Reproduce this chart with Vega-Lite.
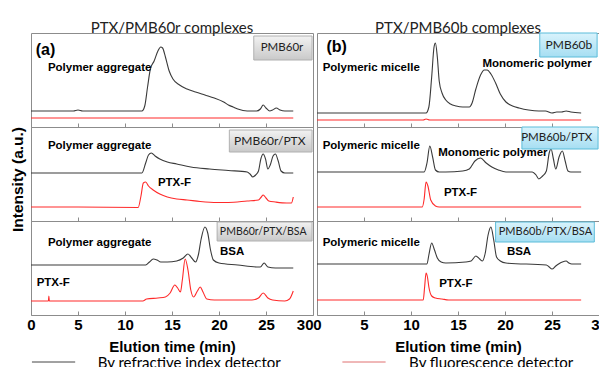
{
  "$schema": "https://vega.github.io/schema/vega-lite/v6.json",
  "autosize": {"type": "none"},
  "padding": {"left": 31, "top": 33, "right": 568, "bottom": 334},
  "background": "white",
  "config": {
    "view": {"stroke": "#8c8c8c", "strokeWidth": 1},
    "font": "Liberation Sans",
    "title": {"font": "Lato", "fontSize": 15, "fontWeight": "normal", "color": "#222", "offset": -3, "anchor": "middle"}
  },
  "datasets": {
    "curves": [
      {"p":"a1","s":"RI","x":0,"y":16},{"p":"a1","s":"RI","x":4.5,"y":16},{"p":"a1","s":"RI","x":5,"y":17},{"p":"a1","s":"RI","x":5.5,"y":16},{"p":"a1","s":"RI","x":11.8,"y":16},{"p":"a1","s":"RI","x":12.1,"y":21},{"p":"a1","s":"RI","x":12.4,"y":40},{"p":"a1","s":"RI","x":12.7,"y":58},{"p":"a1","s":"RI","x":13.1,"y":66},{"p":"a1","s":"RI","x":13.5,"y":76},{"p":"a1","s":"RI","x":13.8,"y":80},{"p":"a1","s":"RI","x":14.0,"y":79},{"p":"a1","s":"RI","x":14.3,"y":70},{"p":"a1","s":"RI","x":14.7,"y":56},{"p":"a1","s":"RI","x":15.1,"y":48},{"p":"a1","s":"RI","x":15.8,"y":42},{"p":"a1","s":"RI","x":16.6,"y":38},{"p":"a1","s":"RI","x":17.5,"y":35},{"p":"a1","s":"RI","x":18.5,"y":32},{"p":"a1","s":"RI","x":19.5,"y":29},{"p":"a1","s":"RI","x":20.5,"y":25},{"p":"a1","s":"RI","x":21,"y":22},{"p":"a1","s":"RI","x":21.5,"y":20},{"p":"a1","s":"RI","x":22,"y":18},{"p":"a1","s":"RI","x":23,"y":16},{"p":"a1","s":"RI","x":24,"y":16},{"p":"a1","s":"RI","x":24.4,"y":18},{"p":"a1","s":"RI","x":24.7,"y":22},{"p":"a1","s":"RI","x":25.0,"y":19},{"p":"a1","s":"RI","x":25.4,"y":16},{"p":"a1","s":"RI","x":25.7,"y":17},{"p":"a1","s":"RI","x":26.1,"y":19},{"p":"a1","s":"RI","x":26.5,"y":17},{"p":"a1","s":"RI","x":27,"y":16},{"p":"a1","s":"RI","x":27.9,"y":16},
      {"p":"a1","s":"FL","x":0,"y":9},{"p":"a1","s":"FL","x":27.9,"y":9},
      {"p":"a2","s":"RI","x":0,"y":48},{"p":"a2","s":"RI","x":11.8,"y":48},{"p":"a2","s":"RI","x":12.2,"y":58},{"p":"a2","s":"RI","x":12.5,"y":66},{"p":"a2","s":"RI","x":12.8,"y":68},{"p":"a2","s":"RI","x":13.2,"y":65},{"p":"a2","s":"RI","x":13.7,"y":62},{"p":"a2","s":"RI","x":14.5,"y":59},{"p":"a2","s":"RI","x":15.5,"y":57},{"p":"a2","s":"RI","x":17,"y":54},{"p":"a2","s":"RI","x":19,"y":52},{"p":"a2","s":"RI","x":21,"y":50.5},{"p":"a2","s":"RI","x":23,"y":49},{"p":"a2","s":"RI","x":23.3,"y":47},{"p":"a2","s":"RI","x":23.6,"y":44},{"p":"a2","s":"RI","x":23.9,"y":46},{"p":"a2","s":"RI","x":24.2,"y":50},{"p":"a2","s":"RI","x":24.45,"y":62},{"p":"a2","s":"RI","x":24.7,"y":67},{"p":"a2","s":"RI","x":24.95,"y":62},{"p":"a2","s":"RI","x":25.2,"y":52},{"p":"a2","s":"RI","x":25.45,"y":56},{"p":"a2","s":"RI","x":25.75,"y":65},{"p":"a2","s":"RI","x":26.0,"y":67},{"p":"a2","s":"RI","x":26.3,"y":60},{"p":"a2","s":"RI","x":26.6,"y":50},{"p":"a2","s":"RI","x":27,"y":48},{"p":"a2","s":"RI","x":27.9,"y":48},
      {"p":"a2","s":"FL","x":0,"y":14},{"p":"a2","s":"FL","x":5,"y":14},{"p":"a2","s":"FL","x":11.4,"y":13.5},{"p":"a2","s":"FL","x":11.7,"y":25},{"p":"a2","s":"FL","x":11.95,"y":38},{"p":"a2","s":"FL","x":12.2,"y":39},{"p":"a2","s":"FL","x":12.5,"y":35},{"p":"a2","s":"FL","x":13,"y":31},{"p":"a2","s":"FL","x":13.7,"y":27},{"p":"a2","s":"FL","x":14.5,"y":24},{"p":"a2","s":"FL","x":15.5,"y":22},{"p":"a2","s":"FL","x":16.6,"y":21},{"p":"a2","s":"FL","x":18,"y":19.5},{"p":"a2","s":"FL","x":19.8,"y":18.5},{"p":"a2","s":"FL","x":21,"y":18.5},{"p":"a2","s":"FL","x":23,"y":20},{"p":"a2","s":"FL","x":24.2,"y":21},{"p":"a2","s":"FL","x":24.5,"y":24},{"p":"a2","s":"FL","x":24.7,"y":26},{"p":"a2","s":"FL","x":25,"y":23},{"p":"a2","s":"FL","x":25.3,"y":20},{"p":"a2","s":"FL","x":26,"y":19},{"p":"a2","s":"FL","x":27.2,"y":18},{"p":"a2","s":"FL","x":27.7,"y":18},{"p":"a2","s":"FL","x":27.9,"y":24},
      {"p":"a3","s":"RI","x":0,"y":50},{"p":"a3","s":"RI","x":12.2,"y":50},{"p":"a3","s":"RI","x":12.6,"y":53},{"p":"a3","s":"RI","x":13.0,"y":56},{"p":"a3","s":"RI","x":13.4,"y":55},{"p":"a3","s":"RI","x":13.8,"y":53},{"p":"a3","s":"RI","x":14.5,"y":53},{"p":"a3","s":"RI","x":15.5,"y":54},{"p":"a3","s":"RI","x":16.2,"y":57},{"p":"a3","s":"RI","x":16.7,"y":61},{"p":"a3","s":"RI","x":17.1,"y":57},{"p":"a3","s":"RI","x":17.5,"y":53},{"p":"a3","s":"RI","x":17.8,"y":60},{"p":"a3","s":"RI","x":18.1,"y":76},{"p":"a3","s":"RI","x":18.5,"y":88},{"p":"a3","s":"RI","x":18.8,"y":82},{"p":"a3","s":"RI","x":19.1,"y":65},{"p":"a3","s":"RI","x":19.4,"y":55},{"p":"a3","s":"RI","x":20,"y":52},{"p":"a3","s":"RI","x":22,"y":50},{"p":"a3","s":"RI","x":24,"y":48},{"p":"a3","s":"RI","x":24.4,"y":48},{"p":"a3","s":"RI","x":24.8,"y":52},{"p":"a3","s":"RI","x":25.2,"y":48},{"p":"a3","s":"RI","x":26,"y":47},{"p":"a3","s":"RI","x":27.9,"y":47},
      {"p":"a3","s":"FL","x":0,"y":14},{"p":"a3","s":"FL","x":1.85,"y":14},{"p":"a3","s":"FL","x":1.9,"y":19},{"p":"a3","s":"FL","x":1.95,"y":14},{"p":"a3","s":"FL","x":11.9,"y":14},{"p":"a3","s":"FL","x":12.3,"y":16},{"p":"a3","s":"FL","x":13.5,"y":17},{"p":"a3","s":"FL","x":14.3,"y":18},{"p":"a3","s":"FL","x":14.8,"y":22},{"p":"a3","s":"FL","x":15.3,"y":30},{"p":"a3","s":"FL","x":15.6,"y":27},{"p":"a3","s":"FL","x":15.9,"y":23},{"p":"a3","s":"FL","x":16.1,"y":35},{"p":"a3","s":"FL","x":16.4,"y":56},{"p":"a3","s":"FL","x":16.7,"y":45},{"p":"a3","s":"FL","x":17.0,"y":25},{"p":"a3","s":"FL","x":17.3,"y":18},{"p":"a3","s":"FL","x":17.7,"y":24},{"p":"a3","s":"FL","x":18.0,"y":28},{"p":"a3","s":"FL","x":18.3,"y":23},{"p":"a3","s":"FL","x":18.7,"y":16},{"p":"a3","s":"FL","x":19.5,"y":15},{"p":"a3","s":"FL","x":23.5,"y":15},{"p":"a3","s":"FL","x":24.2,"y":17},{"p":"a3","s":"FL","x":24.7,"y":22},{"p":"a3","s":"FL","x":25.2,"y":17},{"p":"a3","s":"FL","x":25.7,"y":15},{"p":"a3","s":"FL","x":27,"y":14},{"p":"a3","s":"FL","x":27.5,"y":16},{"p":"a3","s":"FL","x":27.9,"y":24},
      {"p":"b1","s":"RI","x":0,"y":14},{"p":"b1","s":"RI","x":11.6,"y":14},{"p":"b1","s":"RI","x":11.9,"y":20},{"p":"b1","s":"RI","x":12.2,"y":50},{"p":"b1","s":"RI","x":12.45,"y":80},{"p":"b1","s":"RI","x":12.6,"y":84},{"p":"b1","s":"RI","x":12.8,"y":70},{"p":"b1","s":"RI","x":13.0,"y":46},{"p":"b1","s":"RI","x":13.3,"y":34},{"p":"b1","s":"RI","x":13.7,"y":27},{"p":"b1","s":"RI","x":14.2,"y":23},{"p":"b1","s":"RI","x":14.8,"y":21},{"p":"b1","s":"RI","x":15.5,"y":20},{"p":"b1","s":"RI","x":16.2,"y":20},{"p":"b1","s":"RI","x":16.5,"y":24},{"p":"b1","s":"RI","x":16.9,"y":38},{"p":"b1","s":"RI","x":17.4,"y":52},{"p":"b1","s":"RI","x":17.8,"y":57},{"p":"b1","s":"RI","x":18.1,"y":57},{"p":"b1","s":"RI","x":18.5,"y":53},{"p":"b1","s":"RI","x":19,"y":44},{"p":"b1","s":"RI","x":19.5,"y":33},{"p":"b1","s":"RI","x":20.1,"y":25},{"p":"b1","s":"RI","x":20.8,"y":21},{"p":"b1","s":"RI","x":21.5,"y":19},{"p":"b1","s":"RI","x":22.5,"y":17},{"p":"b1","s":"RI","x":23.6,"y":16},{"p":"b1","s":"RI","x":24.3,"y":16},{"p":"b1","s":"RI","x":25,"y":14},{"p":"b1","s":"RI","x":25.5,"y":15},{"p":"b1","s":"RI","x":26,"y":15},{"p":"b1","s":"RI","x":26.5,"y":16},{"p":"b1","s":"RI","x":27,"y":15},{"p":"b1","s":"RI","x":28.1,"y":14},
      {"p":"b1","s":"FL","x":0,"y":7},{"p":"b1","s":"FL","x":11.3,"y":7},{"p":"b1","s":"FL","x":11.6,"y":8},{"p":"b1","s":"FL","x":12,"y":7},{"p":"b1","s":"FL","x":28.1,"y":7},
      {"p":"b2","s":"RI","x":0,"y":49},{"p":"b2","s":"RI","x":11.4,"y":49},{"p":"b2","s":"RI","x":11.7,"y":58},{"p":"b2","s":"RI","x":12.0,"y":75},{"p":"b2","s":"RI","x":12.3,"y":64},{"p":"b2","s":"RI","x":12.6,"y":51},{"p":"b2","s":"RI","x":13,"y":49},{"p":"b2","s":"RI","x":13.7,"y":49},{"p":"b2","s":"RI","x":15.5,"y":50},{"p":"b2","s":"RI","x":16.2,"y":52},{"p":"b2","s":"RI","x":16.8,"y":60},{"p":"b2","s":"RI","x":17.4,"y":63},{"p":"b2","s":"RI","x":18,"y":58},{"p":"b2","s":"RI","x":18.6,"y":54},{"p":"b2","s":"RI","x":19.3,"y":51},{"p":"b2","s":"RI","x":20.1,"y":49},{"p":"b2","s":"RI","x":22.9,"y":49},{"p":"b2","s":"RI","x":23.3,"y":46},{"p":"b2","s":"RI","x":23.6,"y":42},{"p":"b2","s":"RI","x":24.0,"y":45},{"p":"b2","s":"RI","x":24.4,"y":50},{"p":"b2","s":"RI","x":24.7,"y":68},{"p":"b2","s":"RI","x":24.9,"y":72},{"p":"b2","s":"RI","x":25.15,"y":62},{"p":"b2","s":"RI","x":25.4,"y":52},{"p":"b2","s":"RI","x":25.75,"y":64},{"p":"b2","s":"RI","x":26.1,"y":70},{"p":"b2","s":"RI","x":26.4,"y":60},{"p":"b2","s":"RI","x":26.7,"y":50},{"p":"b2","s":"RI","x":27,"y":49},{"p":"b2","s":"RI","x":28.1,"y":49},
      {"p":"b2","s":"FL","x":0,"y":14},{"p":"b2","s":"FL","x":11.2,"y":14},{"p":"b2","s":"FL","x":11.4,"y":22},{"p":"b2","s":"FL","x":11.6,"y":39},{"p":"b2","s":"FL","x":11.8,"y":35},{"p":"b2","s":"FL","x":12.1,"y":21},{"p":"b2","s":"FL","x":12.6,"y":15},{"p":"b2","s":"FL","x":13,"y":14},{"p":"b2","s":"FL","x":28.1,"y":14},
      {"p":"b3","s":"RI","x":0,"y":51},{"p":"b3","s":"RI","x":11.7,"y":51},{"p":"b3","s":"RI","x":11.9,"y":60},{"p":"b3","s":"RI","x":12.2,"y":72},{"p":"b3","s":"RI","x":12.5,"y":65},{"p":"b3","s":"RI","x":12.8,"y":57},{"p":"b3","s":"RI","x":13.2,"y":53},{"p":"b3","s":"RI","x":13.7,"y":52},{"p":"b3","s":"RI","x":15.8,"y":53},{"p":"b3","s":"RI","x":16.4,"y":54},{"p":"b3","s":"RI","x":16.9,"y":59},{"p":"b3","s":"RI","x":17.3,"y":56},{"p":"b3","s":"RI","x":17.6,"y":54},{"p":"b3","s":"RI","x":17.9,"y":62},{"p":"b3","s":"RI","x":18.2,"y":80},{"p":"b3","s":"RI","x":18.5,"y":88},{"p":"b3","s":"RI","x":18.8,"y":75},{"p":"b3","s":"RI","x":19.1,"y":58},{"p":"b3","s":"RI","x":19.5,"y":54},{"p":"b3","s":"RI","x":20.1,"y":52},{"p":"b3","s":"RI","x":24.4,"y":50},{"p":"b3","s":"RI","x":24.7,"y":48},{"p":"b3","s":"RI","x":25,"y":46},{"p":"b3","s":"RI","x":25.4,"y":49},{"p":"b3","s":"RI","x":25.7,"y":51},{"p":"b3","s":"RI","x":26.1,"y":53},{"p":"b3","s":"RI","x":26.5,"y":54},{"p":"b3","s":"RI","x":26.8,"y":52},{"p":"b3","s":"RI","x":27.1,"y":51},{"p":"b3","s":"RI","x":28.1,"y":51},
      {"p":"b3","s":"FL","x":0,"y":15},{"p":"b3","s":"FL","x":11.3,"y":15},{"p":"b3","s":"FL","x":11.45,"y":28},{"p":"b3","s":"FL","x":11.6,"y":42},{"p":"b3","s":"FL","x":11.75,"y":38},{"p":"b3","s":"FL","x":11.9,"y":28},{"p":"b3","s":"FL","x":12.2,"y":19},{"p":"b3","s":"FL","x":12.6,"y":17},{"p":"b3","s":"FL","x":13.3,"y":16},{"p":"b3","s":"FL","x":14,"y":15},{"p":"b3","s":"FL","x":28.1,"y":15}
    ],
    "labels": [
      {"p":"a1","k":"panel","t":"(a)","x":0.5,"y":77},
      {"p":"a1","k":"ann","t":"Polymer aggregate","x":1.8,"y":59},
      {"p":"a1","k":"box","t":"PMB60r","x":26.7,"y":79},
      {"p":"a2","k":"ann","t":"Polymer aggregate","x":1.8,"y":75},
      {"p":"a2","k":"ann","t":"PTX-F","x":13.5,"y":38},
      {"p":"a2","k":"box","t":"PMB60r/PTX","x":25.4,"y":80},
      {"p":"a3","k":"ann","t":"Polymer aggregate","x":1.8,"y":72},
      {"p":"a3","k":"ann","t":"BSA","x":20.1,"y":63},
      {"p":"a3","k":"ann","t":"PTX-F","x":0.6,"y":32},
      {"p":"a3","k":"box","t":"PMB60r/PTX/BSA","x":24.7,"y":83},
      {"p":"a3","k":"leg","t":"By refractive index detector","x":7.1,"y":-48},
      {"p":"b1","k":"panel","t":"(b)","x":1.0,"y":80},
      {"p":"b1","k":"ann","t":"Polymeric micelle","x":0.6,"y":59},
      {"p":"b1","k":"ann","t":"Monomeric polymer","x":17.6,"y":63},
      {"p":"b1","k":"box","t":"PMB60b","x":26.8,"y":82},
      {"p":"b2","k":"ann","t":"Polymeric micelle","x":0.6,"y":75},
      {"p":"b2","k":"ann","t":"Monomeric polymer","x":12.9,"y":68},
      {"p":"b2","k":"ann","t":"PTX-F","x":13.5,"y":28},
      {"p":"b2","k":"box","t":"PMB60b/PTX","x":25.5,"y":83},
      {"p":"b3","k":"ann","t":"Polymeric micelle","x":0.6,"y":72},
      {"p":"b3","k":"ann","t":"BSA","x":20.2,"y":63},
      {"p":"b3","k":"ann","t":"PTX-F","x":13.0,"y":31},
      {"p":"b3","k":"box","t":"PMB60b/PTX/BSA","x":24.3,"y":83},
      {"p":"b3","k":"leg","t":"By fluorescence detector","x":9.8,"y":-48}
    ],
    "boxes": [
      {"p":"a1","x":23.7,"x2":29.9,"y":67,"y2":91},
      {"p":"a2","x":21.1,"x2":29.9,"y":69,"y2":91},
      {"p":"a3","x":19.8,"x2":29.9,"y":74,"y2":93},
      {"p":"b1","x":23.7,"x2":29.8,"y":70,"y2":94},
      {"p":"b2","x":21.8,"x2":29.9,"y":72,"y2":94},
      {"p":"b3","x":19.0,"x2":29.5,"y":73,"y2":93}
    ],
    "legendlines": [
      {"p":"a3","x":0.1,"x2":4.7,"y":-47},
      {"p":"b3","x":2.7,"x2":7.3,"y":-47}
    ]
  },
  "hconcat": [
    {
      "spacing": 0,
      "bounds": "flush",
      "vconcat": [
        {
          "width": 282, "height": 94,
          "title": {"text": "PTX/PMB60r complexes"},
          "encoding": {
            "x": {"field": "x", "type": "quantitative", "scale": {"domain": [0, 30], "nice": false, "zero": false}, "axis": {"values": [0,5,10,15,20,25,30], "tickSize": -4, "tickColor": "#8c8c8c", "domain": false, "labels": false, "grid": false, "title": null}},
            "y": {"field": "y", "type": "quantitative", "scale": {"domain": [0, 94], "nice": false, "zero": false}, "axis": null}
          },
          "layer": [
            {"data": {"name": "curves"}, "transform": [{"filter": "datum.p == 'a1'"}], "mark": {"type": "line", "interpolate": "monotone", "strokeWidth": 1.1}, "encoding": {"color": {"field": "s", "type": "nominal", "scale": {"domain": ["RI", "FL"], "range": ["#3a3a3a", "#ff2a2a"]}, "legend": null}}},
            {"data": {"name": "boxes"}, "transform": [{"filter": "datum.p == 'a1'"}], "mark": {"type": "rect", "stroke": "#b0b0b0", "strokeWidth": 1, "color": {"gradient": "linear", "x1": 0, "y1": 0, "x2": 0, "y2": 1, "stops": [{"offset": 0, "color": "#f2f2f2"}, {"offset": 1, "color": "#c9c9c9"}]}}, "encoding": {"x2": {"field": "x2"}, "y2": {"field": "y2"}}},
            {"data": {"name": "labels"}, "transform": [{"filter": "datum.p == 'a1' && datum.k == 'box'"}], "mark": {"type": "text", "font": "Lato", "fontSize": 11.5, "color": "#222", "align": "center", "baseline": "middle"}, "encoding": {"text": {"field": "t"}}},
            {"data": {"name": "labels"}, "transform": [{"filter": "datum.p == 'a1' && datum.k == 'ann'"}], "mark": {"type": "text", "fontSize": 11.5, "fontWeight": "bold", "color": "#000", "align": "left", "baseline": "middle"}, "encoding": {"text": {"field": "t"}}},
            {"data": {"name": "labels"}, "transform": [{"filter": "datum.p == 'a1' && datum.k == 'panel'"}], "mark": {"type": "text", "fontSize": 16, "fontWeight": "bold", "color": "#000", "align": "left", "baseline": "middle"}, "encoding": {"text": {"field": "t"}}}
          ]
        },
        {
          "width": 282, "height": 94,
          "encoding": {
            "x": {"field": "x", "type": "quantitative", "scale": {"domain": [0, 30], "nice": false, "zero": false}, "axis": {"values": [0,5,10,15,20,25,30], "tickSize": -4, "tickColor": "#8c8c8c", "domain": false, "labels": false, "grid": false, "title": null}},
            "y": {"field": "y", "type": "quantitative", "scale": {"domain": [0, 94], "nice": false, "zero": false}, "axis": {"domain": false, "ticks": false, "labels": false, "grid": false, "title": "Intensity (a.u.)", "titleFont": "Liberation Sans", "titleFontSize": 15.5, "titleFontWeight": "bold", "titleColor": "#000", "titlePadding": 6, "titleY": 52}}
          },
          "layer": [
            {"data": {"name": "curves"}, "transform": [{"filter": "datum.p == 'a2'"}], "mark": {"type": "line", "interpolate": "monotone", "strokeWidth": 1.1}, "encoding": {"color": {"field": "s", "type": "nominal", "scale": {"domain": ["RI", "FL"], "range": ["#3a3a3a", "#ff2a2a"]}, "legend": null}}},
            {"data": {"name": "boxes"}, "transform": [{"filter": "datum.p == 'a2'"}], "mark": {"type": "rect", "stroke": "#b0b0b0", "strokeWidth": 1, "color": {"gradient": "linear", "x1": 0, "y1": 0, "x2": 0, "y2": 1, "stops": [{"offset": 0, "color": "#f2f2f2"}, {"offset": 1, "color": "#c9c9c9"}]}}, "encoding": {"x2": {"field": "x2"}, "y2": {"field": "y2"}}},
            {"data": {"name": "labels"}, "transform": [{"filter": "datum.p == 'a2' && datum.k == 'box'"}], "mark": {"type": "text", "font": "Lato", "fontSize": 12, "color": "#222", "align": "center", "baseline": "middle"}, "encoding": {"text": {"field": "t"}}},
            {"data": {"name": "labels"}, "transform": [{"filter": "datum.p == 'a2' && datum.k == 'ann'"}], "mark": {"type": "text", "fontSize": 11.5, "fontWeight": "bold", "color": "#000", "align": "left", "baseline": "middle"}, "encoding": {"text": {"field": "t"}}}
          ]
        },
        {
          "width": 282, "height": 94,
          "encoding": {
            "x": {"field": "x", "type": "quantitative", "scale": {"domain": [0, 30], "nice": false, "zero": false}, "axis": {"values": [0,5,10,15,20,25,30], "tickSize": -4, "tickColor": "#8c8c8c", "domain": false, "grid": false, "labelFlush": false, "labelOverlap": false, "labelBound": false, "labelAlign": {"condition": {"test": "datum.value == 30", "value": "right"}, "value": "center"}, "labelFont": "Liberation Sans", "labelFontSize": 15, "labelFontWeight": "bold", "labelColor": "#000", "labelPadding": 6, "title": "Elution time (min)", "titleFont": "Liberation Sans", "titleFontSize": 15, "titleFontWeight": "bold", "titleColor": "#000", "titlePadding": 7}},
            "y": {"field": "y", "type": "quantitative", "scale": {"domain": [0, 94], "nice": false, "zero": false}, "axis": null}
          },
          "layer": [
            {"data": {"name": "curves"}, "transform": [{"filter": "datum.p == 'a3'"}], "mark": {"type": "line", "interpolate": "monotone", "strokeWidth": 1.1}, "encoding": {"color": {"field": "s", "type": "nominal", "scale": {"domain": ["RI", "FL"], "range": ["#3a3a3a", "#ff2a2a"]}, "legend": null}}},
            {"data": {"name": "boxes"}, "transform": [{"filter": "datum.p == 'a3'"}], "mark": {"type": "rect", "stroke": "#b0b0b0", "strokeWidth": 1, "color": {"gradient": "linear", "x1": 0, "y1": 0, "x2": 0, "y2": 1, "stops": [{"offset": 0, "color": "#f2f2f2"}, {"offset": 1, "color": "#c9c9c9"}]}}, "encoding": {"x2": {"field": "x2"}, "y2": {"field": "y2"}}},
            {"data": {"name": "labels"}, "transform": [{"filter": "datum.p == 'a3' && datum.k == 'box'"}], "mark": {"type": "text", "font": "Lato", "fontSize": 10.5, "color": "#222", "align": "center", "baseline": "middle"}, "encoding": {"text": {"field": "t"}}},
            {"data": {"name": "labels"}, "transform": [{"filter": "datum.p == 'a3' && datum.k == 'ann'"}], "mark": {"type": "text", "fontSize": 11.5, "fontWeight": "bold", "color": "#000", "align": "left", "baseline": "middle"}, "encoding": {"text": {"field": "t"}}},
            {"data": {"name": "legendlines"}, "transform": [{"filter": "datum.p == 'a3'"}], "mark": {"type": "rule", "color": "#444", "strokeWidth": 1}, "encoding": {"x2": {"field": "x2"}}},
            {"data": {"name": "labels"}, "transform": [{"filter": "datum.p == 'a3' && datum.k == 'leg'"}], "mark": {"type": "text", "font": "Lato", "fontSize": 15, "color": "#000", "align": "left", "baseline": "middle"}, "encoding": {"text": {"field": "t"}}}
          ]
        }
      ]
    },
    {
      "spacing": 0,
      "bounds": "flush",
      "vconcat": [
        {
          "width": 282, "height": 94,
          "title": {"text": "PTX/PMB60b complexes"},
          "encoding": {
            "x": {"field": "x", "type": "quantitative", "scale": {"domain": [0, 30], "nice": false, "zero": false}, "axis": {"values": [0,5,10,15,20,25,30], "tickSize": -4, "tickColor": "#8c8c8c", "domain": false, "labels": false, "grid": false, "title": null}},
            "y": {"field": "y", "type": "quantitative", "scale": {"domain": [0, 94], "nice": false, "zero": false}, "axis": null}
          },
          "layer": [
            {"data": {"name": "curves"}, "transform": [{"filter": "datum.p == 'b1'"}], "mark": {"type": "line", "interpolate": "monotone", "strokeWidth": 1.1}, "encoding": {"color": {"field": "s", "type": "nominal", "scale": {"domain": ["RI", "FL"], "range": ["#3a3a3a", "#ff2a2a"]}, "legend": null}}},
            {"data": {"name": "boxes"}, "transform": [{"filter": "datum.p == 'b1'"}], "mark": {"type": "rect", "stroke": "#5bbcd9", "strokeWidth": 1, "color": {"gradient": "linear", "x1": 0, "y1": 0, "x2": 0, "y2": 1, "stops": [{"offset": 0, "color": "#d9f3fc"}, {"offset": 1, "color": "#a6def2"}]}}, "encoding": {"x2": {"field": "x2"}, "y2": {"field": "y2"}}},
            {"data": {"name": "labels"}, "transform": [{"filter": "datum.p == 'b1' && datum.k == 'box'"}], "mark": {"type": "text", "font": "Lato", "fontSize": 12, "color": "#222", "align": "center", "baseline": "middle"}, "encoding": {"text": {"field": "t"}}},
            {"data": {"name": "labels"}, "transform": [{"filter": "datum.p == 'b1' && datum.k == 'ann'"}], "mark": {"type": "text", "fontSize": 11.5, "fontWeight": "bold", "color": "#000", "align": "left", "baseline": "middle"}, "encoding": {"text": {"field": "t"}}},
            {"data": {"name": "labels"}, "transform": [{"filter": "datum.p == 'b1' && datum.k == 'panel'"}], "mark": {"type": "text", "fontSize": 16, "fontWeight": "bold", "color": "#000", "align": "left", "baseline": "middle"}, "encoding": {"text": {"field": "t"}}}
          ]
        },
        {
          "width": 282, "height": 94,
          "encoding": {
            "x": {"field": "x", "type": "quantitative", "scale": {"domain": [0, 30], "nice": false, "zero": false}, "axis": {"values": [0,5,10,15,20,25,30], "tickSize": -4, "tickColor": "#8c8c8c", "domain": false, "labels": false, "grid": false, "title": null}},
            "y": {"field": "y", "type": "quantitative", "scale": {"domain": [0, 94], "nice": false, "zero": false}, "axis": null}
          },
          "layer": [
            {"data": {"name": "curves"}, "transform": [{"filter": "datum.p == 'b2'"}], "mark": {"type": "line", "interpolate": "monotone", "strokeWidth": 1.1}, "encoding": {"color": {"field": "s", "type": "nominal", "scale": {"domain": ["RI", "FL"], "range": ["#3a3a3a", "#ff2a2a"]}, "legend": null}}},
            {"data": {"name": "boxes"}, "transform": [{"filter": "datum.p == 'b2'"}], "mark": {"type": "rect", "stroke": "#5bbcd9", "strokeWidth": 1, "color": {"gradient": "linear", "x1": 0, "y1": 0, "x2": 0, "y2": 1, "stops": [{"offset": 0, "color": "#d9f3fc"}, {"offset": 1, "color": "#a6def2"}]}}, "encoding": {"x2": {"field": "x2"}, "y2": {"field": "y2"}}},
            {"data": {"name": "labels"}, "transform": [{"filter": "datum.p == 'b2' && datum.k == 'box'"}], "mark": {"type": "text", "font": "Lato", "fontSize": 11.5, "color": "#222", "align": "center", "baseline": "middle"}, "encoding": {"text": {"field": "t"}}},
            {"data": {"name": "labels"}, "transform": [{"filter": "datum.p == 'b2' && datum.k == 'ann'"}], "mark": {"type": "text", "fontSize": 11.5, "fontWeight": "bold", "color": "#000", "align": "left", "baseline": "middle"}, "encoding": {"text": {"field": "t"}}}
          ]
        },
        {
          "width": 282, "height": 94,
          "encoding": {
            "x": {"field": "x", "type": "quantitative", "scale": {"domain": [0, 30], "nice": false, "zero": false}, "axis": {"values": [0,5,10,15,20,25,30], "tickSize": -4, "tickColor": "#8c8c8c", "domain": false, "grid": false, "labelFlush": false, "labelOverlap": false, "labelBound": false, "labelFont": "Liberation Sans", "labelFontSize": 15, "labelFontWeight": "bold", "labelColor": "#000", "labelPadding": 6, "title": "Elution time (min)", "titleFont": "Liberation Sans", "titleFontSize": 15, "titleFontWeight": "bold", "titleColor": "#000", "titlePadding": 7}},
            "y": {"field": "y", "type": "quantitative", "scale": {"domain": [0, 94], "nice": false, "zero": false}, "axis": null}
          },
          "layer": [
            {"data": {"name": "curves"}, "transform": [{"filter": "datum.p == 'b3'"}], "mark": {"type": "line", "interpolate": "monotone", "strokeWidth": 1.1}, "encoding": {"color": {"field": "s", "type": "nominal", "scale": {"domain": ["RI", "FL"], "range": ["#3a3a3a", "#ff2a2a"]}, "legend": null}}},
            {"data": {"name": "boxes"}, "transform": [{"filter": "datum.p == 'b3'"}], "mark": {"type": "rect", "stroke": "#5bbcd9", "strokeWidth": 1, "color": {"gradient": "linear", "x1": 0, "y1": 0, "x2": 0, "y2": 1, "stops": [{"offset": 0, "color": "#d9f3fc"}, {"offset": 1, "color": "#a6def2"}]}}, "encoding": {"x2": {"field": "x2"}, "y2": {"field": "y2"}}},
            {"data": {"name": "labels"}, "transform": [{"filter": "datum.p == 'b3' && datum.k == 'box'"}], "mark": {"type": "text", "font": "Lato", "fontSize": 11, "color": "#222", "align": "center", "baseline": "middle"}, "encoding": {"text": {"field": "t"}}},
            {"data": {"name": "labels"}, "transform": [{"filter": "datum.p == 'b3' && datum.k == 'ann'"}], "mark": {"type": "text", "fontSize": 11.5, "fontWeight": "bold", "color": "#000", "align": "left", "baseline": "middle"}, "encoding": {"text": {"field": "t"}}},
            {"data": {"name": "legendlines"}, "transform": [{"filter": "datum.p == 'b3'"}], "mark": {"type": "rule", "color": "#e07070", "strokeWidth": 1}, "encoding": {"x2": {"field": "x2"}}},
            {"data": {"name": "labels"}, "transform": [{"filter": "datum.p == 'b3' && datum.k == 'leg'"}], "mark": {"type": "text", "font": "Lato", "fontSize": 15, "color": "#000", "align": "left", "baseline": "middle"}, "encoding": {"text": {"field": "t"}}}
          ]
        }
      ]
    }
  ],
  "spacing": -2
}
